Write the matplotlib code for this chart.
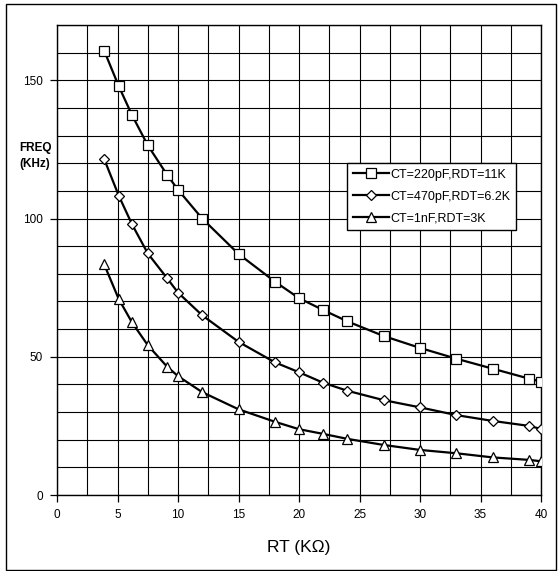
import matplotlib.pyplot as plt
from matplotlib.patches import Rectangle
from matplotlib.ticker import MultipleLocator

plt.rcParams['font.family'] = ['Liberation Sans', 'DejaVu Sans']

# RT (KOhm)
rt = [3.9, 5.1, 6.2, 7.5, 9.1, 10, 12, 15, 18, 20, 22, 24, 27, 30, 33, 36, 39, 40]

# FREQ (KHz)
freq_220p = [160.7, 147.9, 137.4, 126.5, 115.8, 110.4, 100.0, 87.2, 77.2, 71.2,
             66.9, 62.8, 57.5, 53.2, 49.3, 45.7, 42.1, 41.0]
freq_470p = [121.5, 108.3, 97.9, 87.4, 78.4, 73.2, 65.0, 55.4, 48.0, 44.4,
             40.6, 37.7, 34.3, 31.7, 28.9, 26.8, 25.0, 23.9]
freq_1n = [83.4, 70.9, 62.4, 54.2, 46.4, 43.0, 37.2, 31.0, 26.5, 23.8,
           22.1, 20.3, 18.1, 16.3, 15.1, 13.6, 12.7, 12.2]

labels = ["CT=220pF,RDT=11K", "CT=470pF,RDT=6.2K", "CT=1nF,RDT=3K"]

fig = plt.figure(figsize=(5.6, 5.71), dpi=100)
ax = fig.add_axes([57 / 560, 1 - 495 / 571, 484 / 560, 470 / 571])

ax.plot(rt, freq_220p, color='black', lw=1.6, marker='s', ms=7,
        mfc='white', mec='black', mew=0.9, label=labels[0], zorder=3)
ax.plot(rt, freq_470p, color='black', lw=1.6, marker='D', ms=4.8,
        mfc='white', mec='black', mew=0.9, label=labels[1], zorder=3)
ax.plot(rt, freq_1n, color='black', lw=1.6, marker='^', ms=6.5,
        mfc='white', mec='black', mew=0.9, label=labels[2], zorder=3)

ax.set_xlim(0, 40)
ax.set_ylim(0, 170)
ax.xaxis.set_major_locator(MultipleLocator(5))
ax.xaxis.set_minor_locator(MultipleLocator(2.5))
ax.yaxis.set_major_locator(MultipleLocator(50))
ax.yaxis.set_minor_locator(MultipleLocator(10))
ax.grid(True, which='both', color='black', lw=0.8)
ax.set_axisbelow(True)
ax.tick_params(which='major', length=5, width=0.9, labelsize=8.5, pad=5)
ax.tick_params(which='minor', length=0)
for s in ax.spines.values():
    s.set_linewidth(1.0)

ax.set_xlabel("RT (KΩ)", fontsize=12.5, labelpad=14)
fig.text(35 / 560, 1 - 156 / 571, "FREQ\n(KHz)", fontsize=8.5, fontweight='bold',
         ha='center', va='center', linespacing=1.5)

leg = ax.legend(loc='upper left', bbox_to_anchor=(0.599, 0.706), fontsize=9,
                frameon=True, fancybox=False, edgecolor='black', framealpha=1,
                handlelength=2.9, handletextpad=0.15, labelspacing=0.8,
                borderpad=0.45, borderaxespad=0)
leg.get_frame().set_linewidth(1.0)

# outer border
fig.patches.append(Rectangle((5.5 / 560, 1 / 571), 550 / 560, 566 / 571,
                             transform=fig.transFigure, fill=False,
                             edgecolor='black', lw=1.0))

fig.savefig("out.png", dpi=100)
